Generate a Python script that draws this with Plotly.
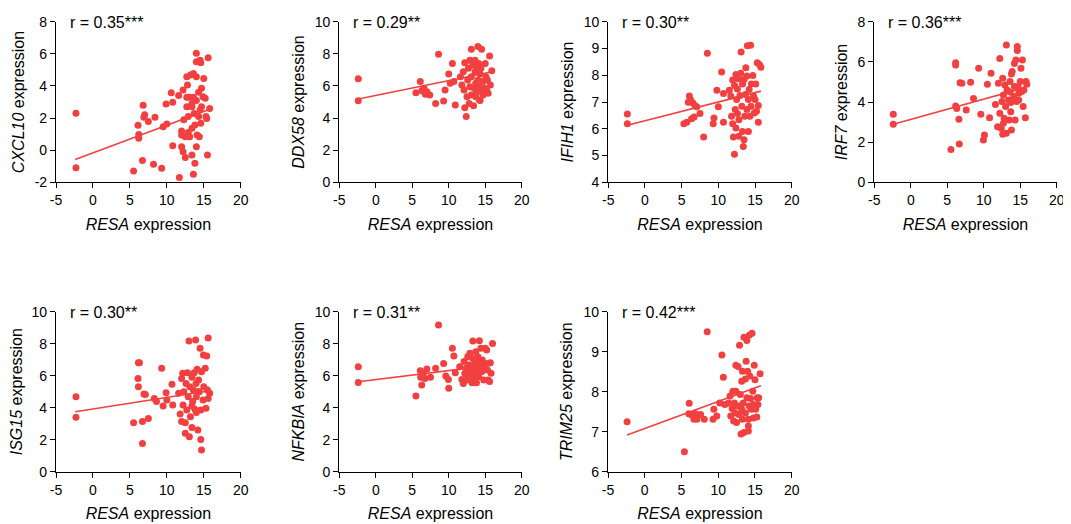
import plotly.graph_objects as go

# ---------------- data ----------------
genes = ["CXCL10", "DDX58", "IFIH1", "IRF7", "ISG15", "NFKBIA", "TRIM25"]
r_labels = ["r = 0.35***", "r = 0.29**", "r = 0.30**", "r = 0.36***",
            "r = 0.30**", "r = 0.31**", "r = 0.42***"]

x_ticks = [-5, 0, 5, 10, 15, 20]
x_tick_text = ["-5", "0", "5", "10", "15", "20"]

y_ticks = {
    "CXCL10": [-2, 0, 2, 4, 6, 8],
    "DDX58": [0, 2, 4, 6, 8, 10],
    "IFIH1": [4, 5, 6, 7, 8, 9, 10],
    "IRF7": [0, 2, 4, 6, 8],
    "ISG15": [0, 2, 4, 6, 8, 10],
    "NFKBIA": [0, 2, 4, 6, 8, 10],
    "TRIM25": [6, 7, 8, 9, 10],
}

cxcl10_x = [-2.3, -2.3, 5.5, 6.1, 6.2, 6.2, 6.8, 6.9, 6.7, 7.5, 7.0, 8.4, 8.2, 9.3, 9.5, 9.9,
            10.0, 10.6, 10.8, 10.8, 11.6, 11.7, 12.0, 12.0, 12.0, 12.2, 12.2, 12.3, 12.5,
            12.5, 12.7, 12.7, 12.8, 12.9, 13.0, 13.1, 13.2, 13.4, 13.4, 13.4, 13.6, 13.6,
            13.6, 13.7, 13.8, 13.8, 14.0, 14.0, 14.0, 14.0, 14.1, 14.3, 14.4, 14.5, 14.5,
            14.6, 14.7, 14.9, 15.0, 15.2, 15.3, 15.4, 15.5, 15.6, 15.8, 14.6, 13.4, 12.7,
            12.9, 14.0, 14.7, 14.3]
cxcl10_y = [2.3, -1.1, -1.3, 1.55, 0.97, 0.74, 2.8, 2.05, -0.65, 1.78, 2.2, 2.05, -0.88,
            -1.13, 1.46, 2.88, 1.63, 3.58, 2.98, 0.28, 3.4, -1.7, 0.22, 0.95, 1.2, 3.75,
            -0.1, 1.9, -0.45, 0.84, 3.3, 4.58, 4.06, 2.09, 3.3, 0.84, 4.68, 1.36, 2.7, -0.3,
            4.78, -1.5, 3.3, 2.29, 1.57, -0.82, 6.03, 5.5, 4.58, 0.22, 0.95, 2.09, 0.84, 5.6,
            2.5, 1.67, 2.7, 3.33, 4.47, 3.23, 2.09, 1.98, -0.3, 5.76, 2.6, 5.45, 2.9, 2.7,
            1.1, 3.1, 3.85, 3.6]

ddx58_x = [-2.4, -2.4, 5.5, 6.1, 6.3, 6.6, 6.8, 7.0, 7.4, 8.2, 8.6, 9.3, 9.5, 10.0, 10.2,
           10.5, 10.7, 10.9, 11.6, 11.8, 12.0, 12.2, 12.1, 12.2, 12.4, 12.5, 12.6, 12.7, 12.8,
           12.9, 13.1, 13.1, 13.1, 13.3, 13.4, 13.5, 13.6, 13.7, 13.7, 13.8, 13.8, 14.0, 14.0,
           14.1, 14.2, 14.2, 14.3, 14.4, 14.5, 14.5, 14.7, 14.7, 14.9, 15.0, 15.1, 15.2, 15.3,
           15.4, 15.6, 15.7, 15.9, 13.6, 12.9, 14.3]
ddx58_y = [6.45, 5.08, 5.58, 6.27, 5.7, 5.85, 5.48, 5.64, 5.44, 4.9, 7.97, 5.06, 5.75, 6.74,
           6.16, 7.4, 6.27, 4.81, 6.58, 6.06, 6.89, 7.45, 5.75, 4.64, 4.09, 5.33, 6.37, 7.1,
           4.9, 5.95, 5.44, 8.28, 6.58, 7.3, 4.77, 5.85, 6.89, 6.16, 5.33, 7.2, 5.64, 8.45,
           6.37, 7.4, 5.12, 5.95, 6.74, 7.1, 8.28, 5.64, 5.44, 6.27, 5.85, 7.4, 6.58, 5.75,
           6.37, 5.54, 7.86, 6.06, 6.95, 7.6, 7.6, 5.1]

ifih1_x = [-2.4, -2.4, 5.3, 5.7, 6.05, 6.2, 5.9, 6.35, 6.5, 6.7, 6.8, 7.05, 7.5, 8.0, 8.5,
           9.4, 9.3, 9.8, 10.0, 10.45, 10.7, 10.7, 11.5, 11.7, 11.8, 11.95, 11.95, 12.05,
           12.2, 12.2, 12.3, 12.4, 12.4, 12.5, 12.6, 12.6, 12.7, 12.8, 12.8, 12.95, 13.05,
           13.1, 13.2, 13.3, 13.3, 13.4, 13.5, 13.5, 13.6, 13.7, 13.75, 13.9, 13.9, 13.95,
           14.1, 14.1, 14.2, 14.3, 14.4, 14.45, 14.5, 14.7, 14.8, 14.9, 15.0, 15.1, 15.2,
           15.3, 15.45, 15.45, 15.6, 15.8]
ifih1_y = [6.55, 6.19, 6.19, 6.24, 7.22, 7.09, 6.99, 6.37, 6.97, 6.44, 6.87, 6.82, 6.57,
           5.69, 8.82, 6.4, 6.19, 7.44, 6.82, 8.12, 6.24, 7.32, 7.44, 7.22, 6.47, 7.82, 6.19,
           5.69, 5.05, 7.62, 6.72, 6.03, 8.03, 7.09, 6.57, 7.49, 7.87, 5.72, 6.34, 7.24, 8.07,
           8.87, 6.84, 7.67, 5.9, 5.34, 5.59, 7.84, 6.47, 7.28, 8.28, 7.97, 6.72, 9.1, 5.9,
           7.09, 7.47, 6.47, 9.12, 6.84, 7.67, 7.99, 7.22, 6.59, 7.09, 7.67, 6.65, 8.47, 6.87,
           6.24, 8.4, 8.3]

irf7_x = [-2.4, -2.4, 5.5, 6.15, 6.15, 6.15, 6.3, 6.6, 6.75, 7.0, 6.65, 7.6, 8.2, 8.6, 9.3,
          9.6, 9.95, 10.1, 10.5, 10.8, 11.0, 11.6, 11.9, 12.0, 12.2, 12.2, 12.4, 12.5, 12.6,
          12.6, 12.7, 12.8, 12.9, 13.0, 13.1, 13.1, 13.2, 13.4, 13.5, 13.6, 13.7, 13.7, 13.8,
          13.9, 14.1, 14.2, 14.2, 14.3, 14.4, 14.5, 14.6, 14.6, 14.7, 14.8, 14.8, 15.0, 15.1,
          15.2, 15.3, 15.4, 15.5, 15.7, 15.8, 15.9, 13.6, 12.7, 13.8]
irf7_y = [3.39, 2.89, 1.64, 5.96, 5.84, 3.8, 3.68, 3.14, 4.96, 4.93, 1.91, 3.6, 4.98, 4.18,
          5.68, 3.39, 2.11, 2.36, 4.88, 3.22, 5.43, 3.88, 2.77, 4.93, 6.17, 3.44, 2.69, 4.02,
          2.39, 5.18, 4.35, 3.19, 4.85, 3.77, 6.84, 2.44, 4.6, 4.1, 3.1, 5.02, 3.52, 3.97,
          2.61, 5.52, 4.27, 5.92, 4.77, 3.1, 6.09, 4.02, 6.76, 6.56, 4.77, 4.43, 4.1, 5.02,
          5.68, 4.52, 6.09, 3.77, 4.6, 3.22, 5.02, 4.88, 4.5, 2.94, 5.4]

isg15_x = [-2.3, -2.3, 5.5, 6.1, 6.15, 6.15, 6.3, 6.7, 6.7, 6.9, 7.1, 7.5, 8.3, 8.6, 9.3,
           9.5, 9.9, 10.0, 10.7, 10.8, 11.6, 11.8, 12.0, 12.0, 12.15, 12.2, 12.3, 12.5, 12.5,
           12.6, 12.7, 12.8, 12.9, 13.0, 13.05, 13.1, 13.2, 13.4, 13.4, 13.5, 13.6, 13.7,
           13.8, 13.9, 13.95, 14.0, 14.1, 14.2, 14.3, 14.4, 14.5, 14.6, 14.6, 14.7, 14.7,
           14.9, 14.95, 15.0, 15.2, 15.3, 15.4, 15.5, 15.6, 15.6, 15.8, 14.0, 13.4, 14.2]
isg15_y = [4.69, 3.4, 3.06, 5.83, 6.81, 5.31, 6.81, 3.13, 1.77, 4.85, 4.83, 3.33, 4.58, 4.38,
           6.46, 4.1, 4.94, 4.48, 5.46, 4.17, 4.9, 3.6, 3.13, 5.83, 6.15, 4.17, 5.0, 3.06, 2.4,
           5.52, 3.85, 6.19, 4.69, 8.17, 2.19, 5.31, 3.44, 5.9, 2.77, 4.38, 5.1, 6.19, 3.9,
           8.23, 5.52, 4.69, 6.4, 2.6, 5.73, 5.0, 7.71, 3.85, 2.02, 1.35, 6.25, 4.48, 7.29,
           5.31, 6.46, 3.96, 7.23, 5.1, 8.35, 4.58, 4.9, 3.7, 4.1, 5.0]

nfkbia_x = [-2.4, -2.4, 5.5, 6.1, 6.15, 6.3, 6.5, 6.75, 7.0, 7.5, 8.2, 8.6, 9.3, 9.6, 9.95,
            10.0, 10.5, 10.7, 10.9, 11.5, 11.8, 12.0, 12.1, 12.2, 12.4, 12.5, 12.6, 12.6,
            12.7, 12.8, 12.9, 13.0, 13.1, 13.2, 13.3, 13.3, 13.4, 13.5, 13.6, 13.7, 13.7,
            13.8, 13.9, 14.0, 14.1, 14.2, 14.3, 14.4, 14.5, 14.6, 14.8, 14.8, 15.0, 15.1,
            15.2, 15.3, 15.4, 15.6, 15.7, 15.8, 16.0, 13.8, 12.9, 14.1]
nfkbia_y = [6.56, 5.58, 4.73, 6.31, 5.9, 5.42, 6.15, 5.83, 6.42, 5.9, 6.46, 9.17, 6.77, 5.98,
            5.77, 5.21, 7.71, 7.23, 6.19, 6.56, 5.77, 5.52, 6.88, 6.15, 6.46, 5.83, 7.19, 6.25,
            5.73, 6.67, 7.4, 6.04, 6.46, 5.56, 8.17, 7.08, 6.25, 5.83, 6.77, 7.5, 6.04, 5.56,
            6.46, 7.19, 5.94, 8.19, 6.67, 7.71, 6.25, 6.98, 6.46, 5.73, 7.71, 6.77, 7.6, 6.35,
            5.73, 5.63, 6.81, 6.15, 8.02, 6.35, 6.25, 6.9]

trim25_x = [-2.4, 5.4, 6.05, 6.0, 6.4, 6.7, 6.9, 7.1, 7.6, 8.1, 8.5, 9.3, 9.4, 9.8, 10.2,
            10.5, 10.7, 10.9, 11.4, 11.6, 11.7, 11.9, 12.0, 12.1, 12.2, 12.3, 12.4, 12.4,
            12.5, 12.6, 12.7, 12.8, 12.9, 13.0, 13.1, 13.2, 13.2, 13.3, 13.3, 13.4, 13.5,
            13.5, 13.7, 13.7, 13.8, 13.9, 13.9, 14.0, 14.1, 14.1, 14.2, 14.25, 14.3, 14.4,
            14.5, 14.6, 14.7, 14.8, 14.9, 15.0, 15.1, 15.25, 15.3, 15.4, 15.5, 15.7, 14.1,
            13.0, 14.8]
trim25_y = [7.25, 6.5, 7.71, 7.45, 7.42, 7.31, 7.45, 7.31, 7.43, 7.31, 9.5, 7.31, 7.56, 7.39,
            7.72, 8.92, 8.36, 7.68, 7.72, 7.89, 7.39, 7.58, 8.01, 7.27, 7.72, 7.47, 8.01, 8.66,
            7.23, 7.64, 8.63, 7.43, 9.16, 7.93, 6.94, 7.56, 8.26, 7.31, 8.51, 7.72, 6.98, 9.36,
            7.47, 8.32, 8.76, 7.85, 9.28, 8.51, 7.31, 7.02, 7.64, 9.42, 8.39, 7.83, 7.56, 9.46,
            8.01, 7.68, 8.66, 8.3, 7.56, 7.37, 7.85, 7.68, 7.85, 8.45, 7.14, 7.64, 7.34]

series_x = [cxcl10_x, ddx58_x, ifih1_x, irf7_x, isg15_x, nfkbia_x, trim25_x]
series_y = [cxcl10_y, ddx58_y, ifih1_y, irf7_y, isg15_y, nfkbia_y, trim25_y]

# linear-fit lines (intercept, slope) and their x extent
fit_intercept = [-0.17, 5.41, 6.30, 3.13, 3.92, 5.76, 7.08]
fit_slope = [0.172, 0.092, 0.070, 0.101, 0.072, 0.056, 0.0676]
fit_x_start = -2.4
fit_x_end = 15.8

# ---------------- layout / style ----------------
W, H = 1071, 524
OFF = 8  # page body margin: the figure is drawn 8 px right/down of the window corner
RED = "rgb(242,64,64)"
FONT = "Liberation Sans, Arial, sans-serif"

# plot-area pixel boxes in window coordinates: (left, right, top, bottom)
boxes = [
    (56, 240.7, 21.7, 182.3),
    (339.3, 521.7, 21.7, 182.3),
    (608.3, 791.7, 21.7, 182.3),
    (874.3, 1056.7, 21.7, 182.3),
    (56, 240.7, 311.7, 471.7),
    (339.3, 521.7, 311.7, 471.7),
    (608, 791.7, 311.7, 471.7),
]

fig = go.Figure()
layout = dict(
    width=W, height=H,
    margin=dict(l=0, r=0, t=0, b=0, autoexpand=False),
    paper_bgcolor="white", plot_bgcolor="white",
    showlegend=False,
    font=dict(family=FONT, size=14, color="black"),
    annotations=[],
)

for i, g in enumerate(genes):
    n = i + 1
    xa = "x" if n == 1 else f"x{n}"
    ya = "y" if n == 1 else f"y{n}"
    l, r, t, b = [v - OFF for v in boxes[i]]
    yt = y_ticks[g]

    # fit line
    fx = [fit_x_start, fit_x_end]
    fy = [fit_intercept[i] + fit_slope[i] * v for v in fx]
    fig.add_trace(go.Scatter(x=fx, y=fy, mode="lines", xaxis=xa, yaxis=ya,
                             line=dict(color=RED, width=1.6), hoverinfo="skip"))
    fig.add_trace(go.Scatter(x=series_x[i], y=series_y[i], mode="markers", xaxis=xa, yaxis=ya,
                             marker=dict(color=RED, size=7, line=dict(width=0))))

    axis_common = dict(showline=True, linecolor="black", linewidth=1.2, ticks="outside",
                       ticklen=5, tickwidth=1.2, tickcolor="black", showgrid=False,
                       zeroline=False, automargin=False,
                       tickfont=dict(family=FONT, size=14, color="black"))
    layout["xaxis" if n == 1 else f"xaxis{n}"] = dict(
        domain=[l / W, r / W], anchor=ya, range=[-5, 20],
        tickmode="array", tickvals=x_ticks, ticktext=x_tick_text,
        title=dict(text="<i>RESA</i> expression", font=dict(family=FONT, size=16), standoff=11),
        **axis_common)
    layout["yaxis" if n == 1 else f"yaxis{n}"] = dict(
        domain=[1 - b / H, 1 - t / H], anchor=xa, range=[yt[0], yt[-1]],
        tickmode="array", tickvals=yt, ticktext=[str(v) for v in yt],
        title=dict(text=f"<i>{g}</i> expression", font=dict(family=FONT, size=16), standoff=6),
        **axis_common)
    layout["annotations"].append(dict(
        text=r_labels[i], xref="paper", yref="paper", x=(l + 12) / W, y=1 - (t + 1) / H,
        xanchor="left", yanchor="middle", showarrow=False,
        font=dict(family=FONT, size=16, color="black")))

fig.update_layout(**layout)
fig.write_html("out.html")
